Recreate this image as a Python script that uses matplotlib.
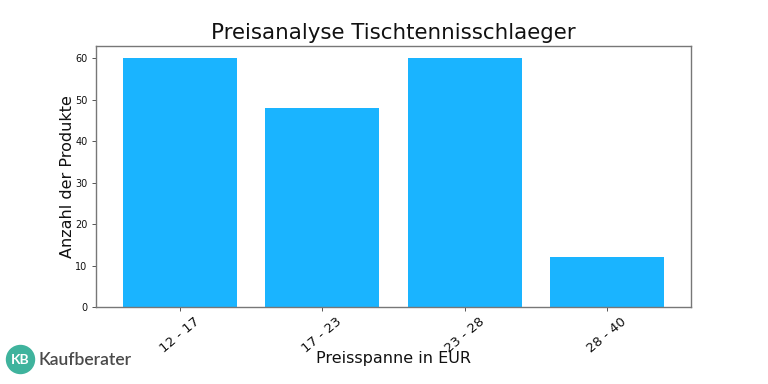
import matplotlib
matplotlib.use("Agg")
import matplotlib.pyplot as plt
from matplotlib.patches import Circle

# ============================================================
# Data
# ============================================================
price_ranges = ["12 - 17", "17 - 23", "23 - 28", "28 - 40"]
product_counts = [60, 48, 60, 12]

# ============================================================
# Figure
# ============================================================
fig = plt.figure(figsize=(7.68, 3.84), dpi=100, facecolor="white")
ax = fig.add_axes([96 / 768, 1 - 307 / 384, 595 / 768, 261 / 384])

ax.bar(price_ranges, product_counts, width=0.8, color="#1ab4ff")
ax.set_yticks([0, 10, 20, 30, 40, 50, 60])
ax.tick_params(axis="y", labelsize=7, length=3, width=0.7, color="#555555", labelcolor="#111111", pad=3)
ax.tick_params(axis="x", labelsize=9.5, length=3, width=0.7, color="#555555", labelcolor="#111111", labelrotation=40, pad=3)
for spine in ax.spines.values():
    spine.set_color("#777777")
    spine.set_linewidth(1.0)

ax.set_title("Preisanalyse Tischtennisschlaeger", fontsize=15.4, color="#111111", pad=5)
ax.set_xlabel("Preisspanne in EUR", fontsize=11.5, color="#111111")
ax.xaxis.set_label_coords(0.5, -0.168)
ax.set_ylabel("Anzahl der Produkte", fontsize=11.5, color="#111111", labelpad=0)

# Logo, placed in pixel coordinates of the figure
logo = Circle((20.5, 384 - 359.5), 14, transform=None, color="#3fb39d")
fig.add_artist(logo)
fig.text(20.5 / 768, 1 - 360 / 384, "KB", color="white", fontsize=10, fontweight="bold",
         family="Lato", ha="center", va="center")
fig.text(38.5 / 768, 1 - 360 / 384, "Kaufberater", color="#4a4a4a", fontsize=12.6, fontweight="semibold",
         family="Lato", ha="left", va="center")

fig.savefig("out.png", dpi=100, facecolor="white")
